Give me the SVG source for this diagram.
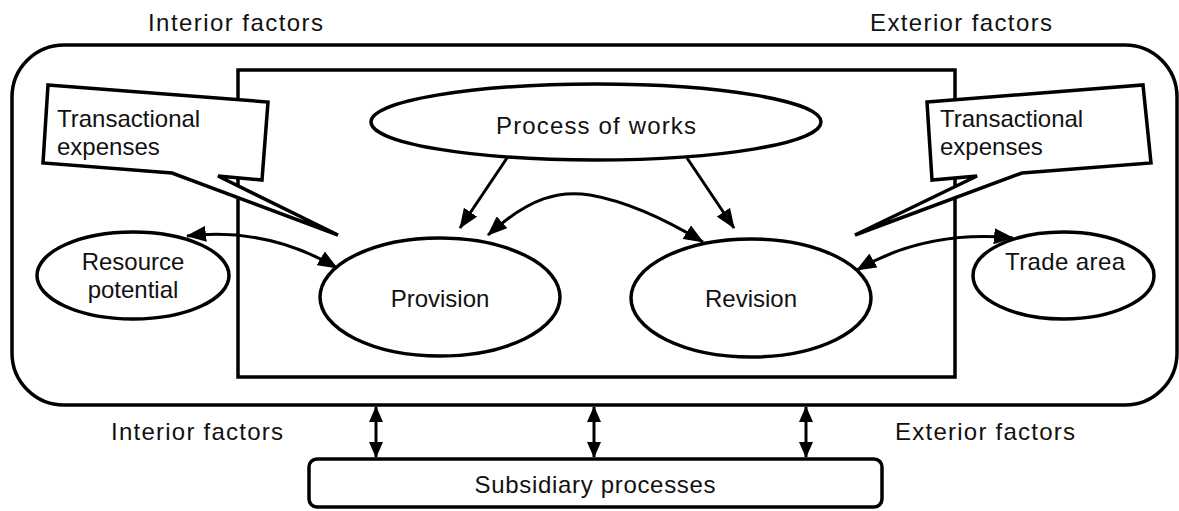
<svg xmlns="http://www.w3.org/2000/svg" width="1179" height="511" viewBox="0 0 1179 511">
<style>
.shape{fill:#fff;stroke:#000;stroke-width:3.5}
.frame{fill:none;stroke:#000;stroke-width:3.5}
.conn{fill:none;stroke:#000;stroke-width:3}
text{font-family:"Liberation Sans",Arial,sans-serif;font-size:24px;fill:#111}
.c{text-anchor:middle}
</style>
<defs>
<marker id="ah" viewBox="0 0 20 16" refX="19" refY="8" markerWidth="20" markerHeight="16" markerUnits="userSpaceOnUse" orient="auto-start-reverse">
<path d="M0,0 L20,8 L0,16 z" fill="#000"/>
</marker>
<marker id="ahs" viewBox="0 0 16 14" refX="15" refY="7" markerWidth="16" markerHeight="14" markerUnits="userSpaceOnUse" orient="auto-start-reverse">
<path d="M0,0 L16,7 L0,14 z" fill="#000"/>
</marker>
</defs>
<g id="labels">
<text x="148" y="31" textLength="175" lengthAdjust="spacing">Interior factors</text>
<text x="870" y="31" textLength="182" lengthAdjust="spacing">Exterior factors</text>
<text x="111" y="440" textLength="172" lengthAdjust="spacing">Interior factors</text>
<text x="895" y="440" textLength="180" lengthAdjust="spacing">Exterior factors</text>
</g>
<g id="outer">
<rect class="frame" x="12" y="45" width="1165" height="360" rx="52" ry="52"/>
</g>
<g id="inner">
<rect class="frame" x="238" y="70" width="717" height="307"/>
</g>
<g id="callout-left">
<polygon class="shape" points="48,85 268,102 262,180 218,176 338,235 172,173 43,163"/>
<text x="57" y="127">Transactional</text>
<text x="57" y="155">expenses</text>
</g>
<g id="callout-right">
<polygon class="shape" points="927,102 1143,85 1151,163 1022,173 855,235 977,176 932,180"/>
<text x="940" y="127">Transactional</text>
<text x="940" y="155">expenses</text>
</g>
<g id="process">
<ellipse class="shape" cx="596" cy="122" rx="225" ry="38"/>
<text class="c" x="596" y="134" textLength="200" lengthAdjust="spacing">Process of works</text>
</g>
<g id="provision">
<ellipse class="shape" cx="440" cy="297" rx="120" ry="59"/>
<text class="c" x="440" y="307">Provision</text>
</g>
<g id="revision">
<ellipse class="shape" cx="751" cy="298" rx="120" ry="59"/>
<text class="c" x="751" y="307">Revision</text>
</g>
<g id="resource">
<ellipse class="shape" cx="133" cy="275.5" rx="96" ry="43.5"/>
<text class="c" x="133" y="270">Resource</text>
<text class="c" x="133" y="298">potential</text>
</g>
<g id="trade">
<ellipse class="shape" cx="1063.5" cy="275.5" rx="90.5" ry="43.5"/>
<text class="c" x="1065" y="270" textLength="120" lengthAdjust="spacing">Trade area</text>
</g>
<g id="subsidiary">
<rect class="shape" x="309" y="459" width="573" height="48" rx="8" ry="8"/>
<text class="c" x="595" y="493" textLength="241" lengthAdjust="spacing">Subsidiary processes</text>
</g>
<g id="connectors">
<path class="conn" d="M507,158 L460,228" marker-end="url(#ah)"/>
<path class="conn" d="M687,158 L734,228" marker-end="url(#ah)"/>
<path class="conn" d="M488,235 C530,197 560,190 590,195 C630,202 670,222 703,242" marker-start="url(#ah)" marker-end="url(#ah)"/>
<path class="conn" d="M187,236 C240,230 290,240 337,268" marker-start="url(#ah)" marker-end="url(#ah)"/>
<path class="conn" d="M857,270 C900,245 950,232 1013,238" marker-start="url(#ah)" marker-end="url(#ah)"/>
<path class="conn" d="M376,407 L376,457" marker-start="url(#ahs)" marker-end="url(#ahs)"/>
<path class="conn" d="M594,407 L594,457" marker-start="url(#ahs)" marker-end="url(#ahs)"/>
<path class="conn" d="M806,407 L806,457" marker-start="url(#ahs)" marker-end="url(#ahs)"/>
</g>
</svg>
